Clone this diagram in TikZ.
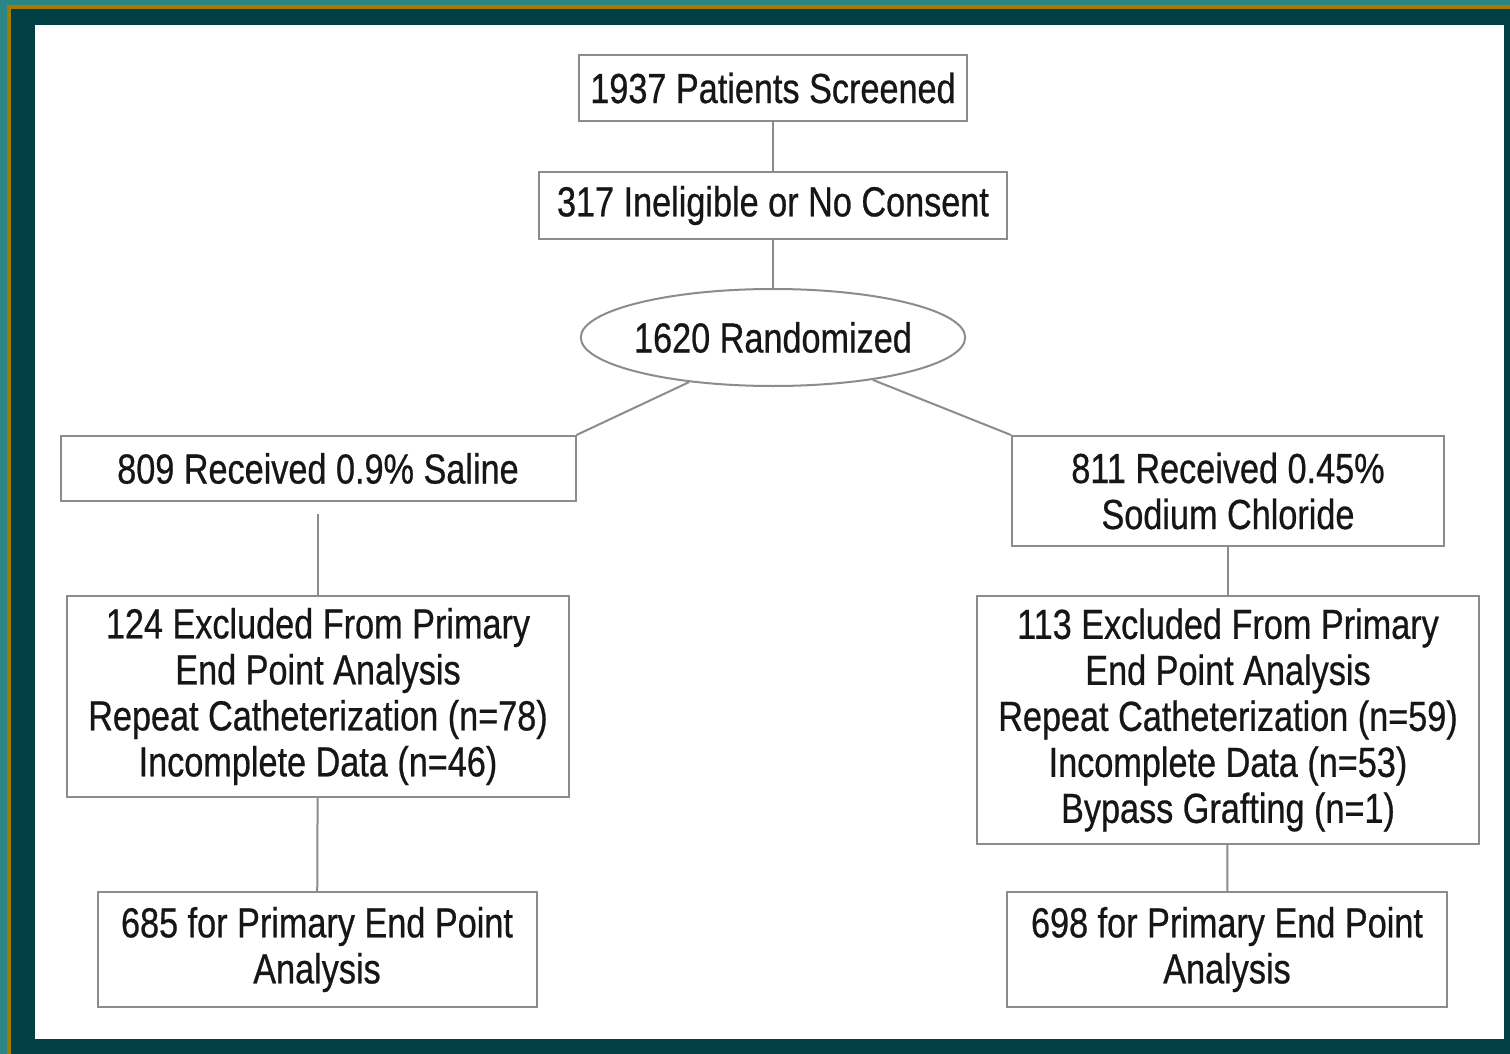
\documentclass[tikz,border=0pt]{standalone}
\usepackage{fontspec}
\setmainfont[FakeStretch=0.815, FakeBold=0.6]{Liberation Sans}
\usetikzlibrary{positioning,shapes.geometric}
\definecolor{framec}{HTML}{023F45}
\definecolor{edgec}{HTML}{2A8584}
\definecolor{goldc}{HTML}{A57A00}
\definecolor{linec}{HTML}{8C8C8C}
\definecolor{textc}{HTML}{161616}
\tikzset{
  box/.style={draw=linec, line width=1pt, fill=white, align=center, inner sep=2pt, text=textc, font=\fontsize{21}{23}\selectfont},
  oval/.style={box, ellipse, inner ysep=0pt, inner xsep=-1.5pt},
  link/.style={draw=linec, line width=1pt},
}

\begin{document}
\begin{tikzpicture}[x=0.5pt, y=-0.5pt]
  % frame
  \useasboundingbox (0,0) rectangle (1510,1054);
  \fill[edgec] (0,0) rectangle (1510,1054);
  \fill[goldc] (7,5) rectangle (1510,1054);
  \fill[framec] (11,9) rectangle (1510,1054);
  \fill[white] (35,25) rectangle (1504,1039);
  % top part
  \node[box, minimum width=194pt, minimum height=33pt] (screen) at (773,88) {1937 Patients Screened};
  \node[box, below=24.5pt of screen, minimum width=234pt, minimum height=33.5pt] (inelig) {317 Ineligible or No Consent};
  \node[oval, below=24pt of inelig, minimum width=191.5pt, minimum height=48.5pt] (rand) {1620 Randomized};
  % two arms
  \node[box, anchor=north, minimum width=257.5pt, minimum height=32.5pt] (saline) at (318,435) {809 Received 0.9\% Saline};
  \node[box, anchor=north, minimum width=216pt, minimum height=55pt] (sodium) at (1228,435) {811 Received 0.45\%\\Sodium Chloride};
  \node[box, anchor=north, minimum width=251pt, minimum height=100.5pt] (exclL) at (318,595)
    {124 Excluded From Primary\\End Point Analysis\\Repeat Catheterization (n=78)\\Incomplete Data (n=46)};
  \node[box, anchor=north, minimum width=251pt, minimum height=124pt] (exclR) at (1228,595)
    {113 Excluded From Primary\\End Point Analysis\\Repeat Catheterization (n=59)\\Incomplete Data (n=53)\\Bypass Grafting (n=1)};
  \node[box, anchor=north, minimum width=219.5pt, minimum height=57.5pt] (finalL) at (317,891) {685 for Primary End Point\\Analysis};
  \node[box, anchor=north, minimum width=220pt, minimum height=57.5pt] (finalR) at (1227,891) {698 for Primary End Point\\Analysis};
  % connectors
  \draw[link] (screen) -- (inelig);
  \draw[link] (inelig) -- (rand);
  \draw[link] (rand.208) -- (saline.north east);
  \draw[link] (rand.337) -- (sodium.north west);
  \draw[link, shorten <=6pt] (saline) -- (exclL);
  \draw[link] (exclL) -- (finalL);
  \draw[link] (sodium) -- (exclR);
  \draw[link] (exclR) -- (finalR);
\end{tikzpicture}
\end{document}
